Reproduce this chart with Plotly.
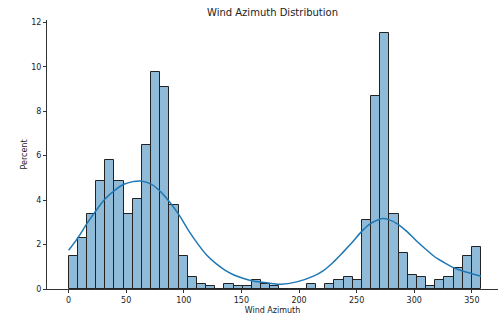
import plotly.graph_objects as go
import numpy as np

# Histogram (percent per bin), 45 bins spanning 0..358 degrees
azimuth_min = 0.0
azimuth_max = 358.0
percent = [1.47, 2.30, 3.36, 4.85, 5.81, 4.85, 3.36, 4.04, 6.50, 9.76,
           9.08, 3.77, 1.47, 0.53, 0.24, 0.12, 0.0, 0.24, 0.12, 0.12,
           0.40, 0.24, 0.12, 0.0, 0.0, 0.0, 0.24, 0.0, 0.24, 0.39,
           0.53, 0.39, 3.11, 8.66, 11.52, 3.36, 1.61, 0.65, 0.53, 0.12,
           0.39, 0.53, 0.93, 1.47, 1.88]

# KDE curve
kde_x = [0, 8, 16, 24, 32, 40, 48, 56, 62.5, 72, 80, 88, 96, 104, 112, 120,
         128, 136, 144, 152, 160, 168, 176, 184, 198, 213, 221.5, 230, 238.5,
         246, 254, 262, 270, 272.5, 278, 286, 294, 302, 310, 318, 326, 334,
         342, 350, 358]
kde_y = [1.74, 2.30, 2.95, 3.54, 4.07, 4.44, 4.71, 4.83, 4.86, 4.71, 4.37,
         3.89, 3.32, 2.64, 2.04, 1.52, 1.14, 0.84, 0.62, 0.47, 0.36, 0.30,
         0.25, 0.21, 0.32, 0.59, 0.84, 1.22, 1.67, 2.09, 2.57, 2.94, 3.14,
         3.17, 3.12, 2.91, 2.57, 2.16, 1.79, 1.44, 1.19, 0.96, 0.81, 0.69,
         0.57]

x_ticks = [0, 50, 100, 150, 200, 250, 300, 350]
y_ticks = [0, 2, 4, 6, 8, 10, 12]

n_bins = len(percent)
edges = np.linspace(azimuth_min, azimuth_max, n_bins + 1)
centers = (edges[:-1] + edges[1:]) / 2
width = edges[1] - edges[0]

fig = go.Figure()
fig.add_trace(go.Bar(
    x=centers, y=percent, width=width,
    marker=dict(color="rgba(31,119,180,0.5)", line=dict(color="#222222", width=1)),
    showlegend=False, hoverinfo="skip",
))
fig.add_trace(go.Scatter(
    x=kde_x, y=kde_y, mode="lines",
    line=dict(color="#1f77b4", width=1.5, shape="spline"),
    showlegend=False,
))

font = "DejaVu Sans"
fig.update_layout(
    width=498, height=315,
    margin=dict(l=47, r=0, t=20, b=26),
    plot_bgcolor="white", paper_bgcolor="white",
    bargap=0,
    title=dict(text="Wind Azimuth Distribution", x=0.5, xref="paper",
               y=1 - 12 / 315, yanchor="middle",
               font=dict(family=font, size=10, color="#222")),
    font=dict(family=font, size=8, color="#222"),
)
fig.update_xaxes(
    range=[-18.75, 372.7], tickvals=x_ticks, showgrid=False, zeroline=False,
    showline=True, linecolor="#333", linewidth=1,
    ticks="outside", ticklen=3, tickcolor="#333",
    tickfont=dict(family=font, size=8, color="#222"),
    title=dict(text="Wind Azimuth", font=dict(family=font, size=8, color="#222"), standoff=4),
)
fig.update_yaxes(
    range=[0, 12.1], tickvals=y_ticks, showgrid=False, zeroline=False,
    showline=True, linecolor="#333", linewidth=1,
    ticks="outside", ticklen=3, tickcolor="#333",
    tickfont=dict(family=font, size=8, color="#222"),
    title=dict(text="Percent", font=dict(family=font, size=8, color="#222"), standoff=2),
)

fig.write_html("out.html", config={"displayModeBar": False},
               post_script="document.body.style.margin='0';")
